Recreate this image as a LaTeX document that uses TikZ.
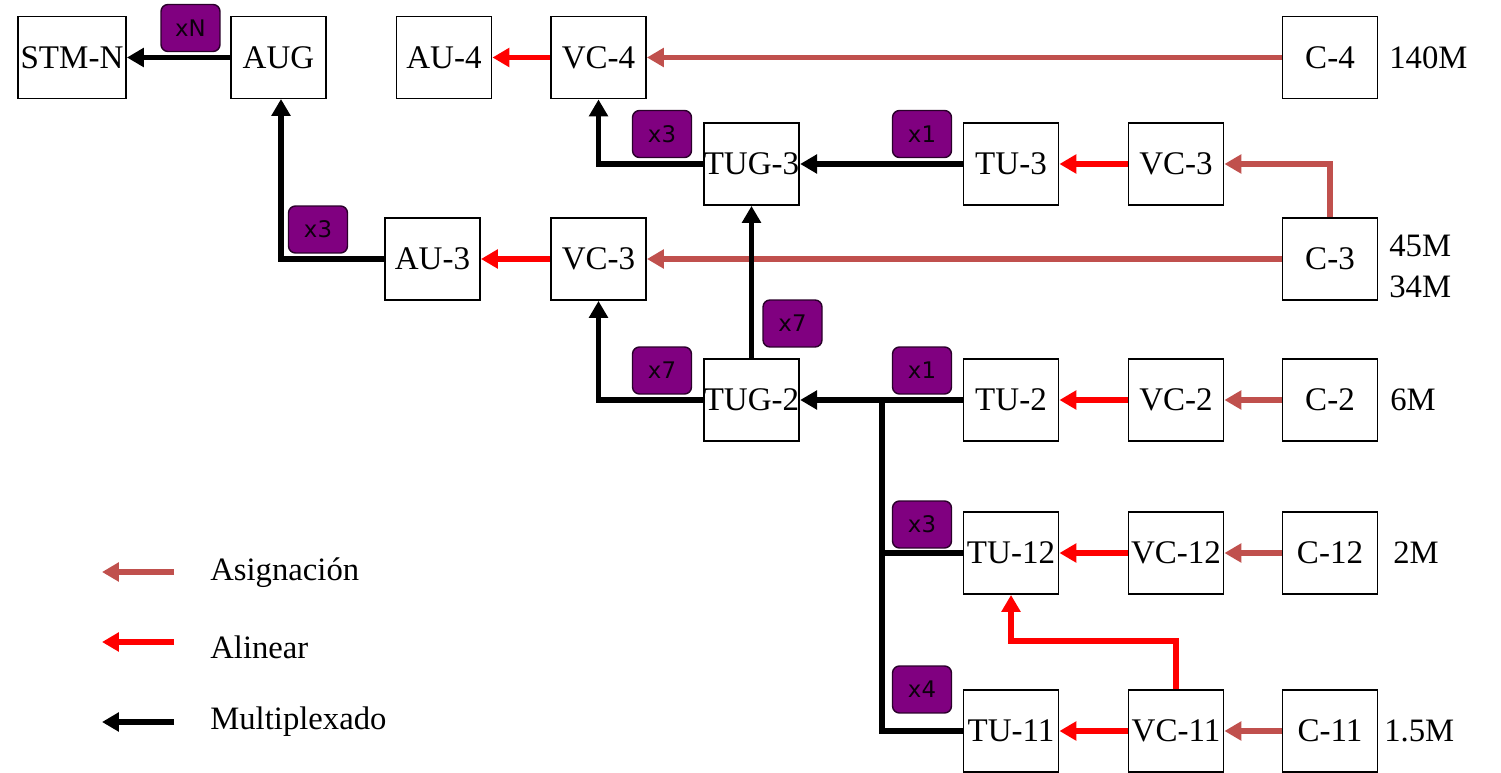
\documentclass[tikz,border=0pt]{standalone}
\usepackage{fontspec}
\setmainfont{Liberation Serif}
\newfontfamily\badgefont{DejaVu Sans}
\usetikzlibrary{arrows.meta}
\definecolor{rosy}{HTML}{C0504D}
\definecolor{alnred}{HTML}{FF0000}
\definecolor{badgefill}{HTML}{800080}
\definecolor{badgeline}{HTML}{2A002A}
\begin{document}
\begin{tikzpicture}[x=0.02cm,y=-0.02cm,
  box/.style={draw=black,line width=1.1pt,fill=white,minimum width=1.9cm,minimum height=1.64cm,inner sep=0pt,
    font=\fontsize{18.8}{22}\selectfont},
  rate/.style={anchor=west,inner sep=0pt,font=\fontsize{18.6}{22}\selectfont},
  badge/.style={draw=badgeline,line width=0.8pt,fill=badgefill,rounded corners=0.14cm,
    minimum width=1.18cm,minimum height=0.94cm,inner sep=0pt,font=\badgefont\fontsize{13}{15}\selectfont,text=black!90!badgefill},
  conn/.style={line width=3.3pt,-{Triangle[length=0.34cm,width=0.37cm]}},
  mux/.style={conn,draw=black},
  muxline/.style={line width=3.3pt,draw=black},
  aln/.style={conn,draw=alnred},
  asg/.style={conn,draw=rosy},
  legtext/.style={anchor=west,inner sep=0pt,font=\fontsize{18.6}{22}\selectfont}]
\useasboundingbox (0,0) rectangle (1501,773);

% boxes
\node[box,minimum width=2.16cm] (STM) at (72,57.5) {STM-N};
\node[box] (AUG) at (278.5,57.5) {AUG};
\node[box] (AU4) at (444,57.5) {AU-4};
\node[box] (VC4) at (598.5,57.5) {VC-4};
\node[box] (C4) at (1330,57.5) {C-4};
\node[box] (TUG3) at (751.5,164) {TUG-3};
\node[box] (TU3) at (1011,164) {TU-3};
\node[box] (VC3a) at (1176,164) {VC-3};
\node[box] (AU3) at (432.5,259) {AU-3};
\node[box] (VC3b) at (598.5,259) {VC-3};
\node[box] (C3) at (1330,259) {C-3};
\node[box] (TUG2) at (751.5,400) {TUG-2};
\node[box] (TU2) at (1011,400) {TU-2};
\node[box] (VC2) at (1176,400) {VC-2};
\node[box] (C2) at (1330,400) {C-2};
\node[box] (TU12) at (1011,553) {TU-12};
\node[box] (VC12) at (1176,553) {VC-12};
\node[box] (C12) at (1330,553) {C-12};
\node[box] (TU11) at (1011,731) {TU-11};
\node[box] (VC11) at (1176,731) {VC-11};
\node[box] (C11) at (1330,731) {C-11};

% rate labels
\node[rate] (r140) at (1389,58) {140M};
\node[rate] (r45) at (1389,246) {45M};
\node[rate] (r34) at (1389,287) {34M};
\node[rate] (r6) at (1390,400) {6M};
\node[rate] (r2) at (1393,553) {2M};
\node[rate] (r15) at (1384,731) {1.5M};

% connectors
\draw[mux] (AUG.west) -- (STM.east);
\coordinate (AUGin) at (281,99);
\draw[mux] (AU3.west) -| (AUGin);
\draw[aln] (VC4.west) -- (AU4.east);
\draw[asg] (C4.west) -- (VC4.east);
\draw[mux] (TUG3.west) -| (VC4.south);
\draw[mux] (TU3.west) -- (TUG3.east);
\draw[aln] (VC3a.west) -- (TU3.east);
\draw[asg] (C3.north) |- (VC3a.east);
\draw[asg] (C3.west) -- (VC3b.east);
\draw[aln] (VC3b.west) -- (AU3.east);
\draw[mux] (TUG2.north) -- (TUG3.south);
\draw[mux] (TUG2.west) -| (VC3b.south);
\coordinate (J) at (882,400);
\draw[muxline] (TU12.west) -| (J);
\draw[muxline] (TU11.west) -| (J);
\draw[mux] (TU2.west) -- (TUG2.east);
\draw[aln] (VC2.west) -- (TU2.east);
\draw[asg] (C2.west) -- (VC2.east);
\draw[aln] (VC12.west) -- (TU12.east);
\draw[asg] (C12.west) -- (VC12.east);
\draw[aln] (VC11.west) -- (TU11.east);
\draw[asg] (C11.west) -- (VC11.east);
\draw[aln] (VC11.north) -- ++(0,-48) -| (TU12.south);

% badges
\node[badge] (bN) at (190.5,28) {xN};
\node[badge] (b3a) at (318,229.5) {x3};
\node[badge] (b3b) at (662,134) {x3};
\node[badge] (b1a) at (922,134) {x1};
\node[badge] (b7a) at (792.5,323.5) {x7};
\node[badge] (b7b) at (662,370.5) {x7};
\node[badge] (b1b) at (922,370.5) {x1};
\node[badge] (b3c) at (922,524.5) {x3};
\node[badge] (b4) at (922,689.5) {x4};

% legend
\coordinate (l1s) at (174,572);
\coordinate (l1e) at (102,572);
\coordinate (l2s) at (174,642);
\coordinate (l2e) at (102,642);
\coordinate (l3s) at (174,722);
\coordinate (l3e) at (102,722);
\draw[asg] (l1s) -- (l1e);
\draw[aln] (l2s) -- (l2e);
\draw[mux] (l3s) -- (l3e);
\node[legtext] (t1) at (210,573) {Asignación};
\node[legtext] (t2) at (210,647) {Alinear};
\node[legtext] (t3) at (210,722) {Multiplexado};
\end{tikzpicture}
\end{document}
